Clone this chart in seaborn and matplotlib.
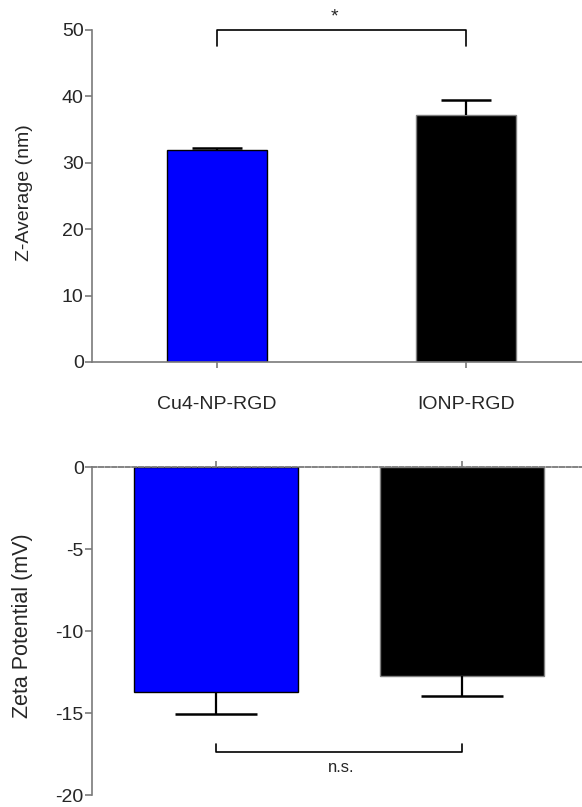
import matplotlib
matplotlib.use("Agg")
import matplotlib.pyplot as plt
import seaborn as sns
import numpy as np
import pandas as pd

categories = ["Cu4-NP-RGD", "IONP-RGD"]
z_average = [31.9, 37.2]
z_err = [0.3, 2.25]
zeta = [-13.72, -12.74]
zeta_err = [1.34, 1.24]
bar_colors = ["#0000FF", "#000000"]
edge_colors = ["#000000", "#7f7f7f"]

sns.set_style("ticks")
plt.rcParams['font.family'] = ['Liberation Sans', 'DejaVu Sans']
plt.rcParams['axes.unicode_minus'] = False

W, H = 582, 807
fig = plt.figure(figsize=(W / 100, H / 100), dpi=100)

def fx(px):
    return px / W

def fy(py):
    return 1 - py / H

gray = "#7a7a7a"
pos = np.arange(len(categories))

# ---------- top panel ----------
ax1 = fig.add_axes([fx(92), fy(362), fx(582) - fx(92), fy(30) - fy(362)])
df1 = pd.DataFrame({"cat": categories, "val": z_average})
sns.barplot(data=df1, x="cat", y="val", hue="cat", palette=bar_colors,
            width=0.4, legend=False, ax=ax1, linewidth=1.0, saturation=1)
for p, ec in zip(ax1.patches, edge_colors):
    p.set_edgecolor(ec)
z_top = np.array(z_average) + np.array(z_err)
ax1.vlines(pos, z_average, z_top, color="black", lw=1.6, zorder=1)
ax1.hlines(z_top, pos - 0.1, pos + 0.1, color="black", lw=1.8, zorder=1)
ax1.set_xlim(-0.502, 1.466)
ax1.set_ylim(0, 50)
ax1.set_yticks([0, 10, 20, 30, 40, 50])
ax1.set_xlabel("")
ax1.set_ylabel("Z-Average (nm)", fontsize=14)
ax1.yaxis.set_label_coords(-0.12, 0.51)
for s in ["top", "right"]:
    ax1.spines[s].set_visible(False)
for s in ["left", "bottom"]:
    ax1.spines[s].set_color(gray)
    ax1.spines[s].set_linewidth(1.2)
ax1.tick_params(axis="y", length=5, width=1.2, color=gray, labelsize=14, pad=1)
ax1.tick_params(axis="x", length=4.5, width=1.2, color=gray, labelsize=14, pad=20)

# significance bracket
ax1.plot([0, 0, 1, 1], [47.6, 50, 50, 47.6], color="black", lw=1.2, clip_on=False)
ax1.text(0.47, 51.9, "*", ha="center", va="center", fontsize=14, clip_on=False)

# ---------- bottom panel ----------
ax2 = fig.add_axes([fx(92), fy(795), fx(582) - fx(92), fy(467) - fy(795)])
df2 = pd.DataFrame({"cat": categories, "val": zeta})
sns.barplot(data=df2, x="cat", y="val", hue="cat", palette=bar_colors,
            width=0.67, legend=False, ax=ax2, linewidth=1.0, saturation=1)
for p, ec in zip(ax2.patches, edge_colors):
    p.set_edgecolor(ec)
zeta_bot = np.array(zeta) - np.array(zeta_err)
ax2.vlines(pos, zeta, zeta_bot, color="black", lw=1.6, zorder=1)
ax2.hlines(zeta_bot, pos - 0.168, pos + 0.168, color="black", lw=1.8, zorder=1)
ax2.set_xlim(-0.504, 1.488)
ax2.set_ylim(-20, 0)
ax2.set_yticks([-20, -15, -10, -5, 0])
ax2.set_xlabel("")
ax2.set_ylabel("Zeta Potential (mV)", fontsize=15.5)
ax2.yaxis.set_label_coords(-0.12, 0.515)
ax2.spines["right"].set_visible(False)
ax2.spines["bottom"].set_visible(False)
ax2.spines["left"].set_color(gray)
ax2.spines["left"].set_linewidth(1.2)
ax2.spines["top"].set_color(gray)
ax2.spines["top"].set_linewidth(1.3)
ax2.spines["top"].set_linestyle((0, (2.5, 1.2)))
ax2.spines["top"].set_zorder(5)
ax2.xaxis.set_ticks_position("top")
ax2.tick_params(axis="x", length=4.5, width=1.2, color=gray, labeltop=False, labelbottom=False)
ax2.tick_params(axis="y", length=5, width=1.2, color=gray, labelsize=14, pad=1)

ax2.plot([0, 0, 1, 1], [-16.9, -17.4, -17.4, -16.9], color="black", lw=1.2, clip_on=False)
ax2.text(0.508, -18.3, "n.s.", ha="center", va="center", fontsize=12)

fig.savefig("out.png", dpi=100)
